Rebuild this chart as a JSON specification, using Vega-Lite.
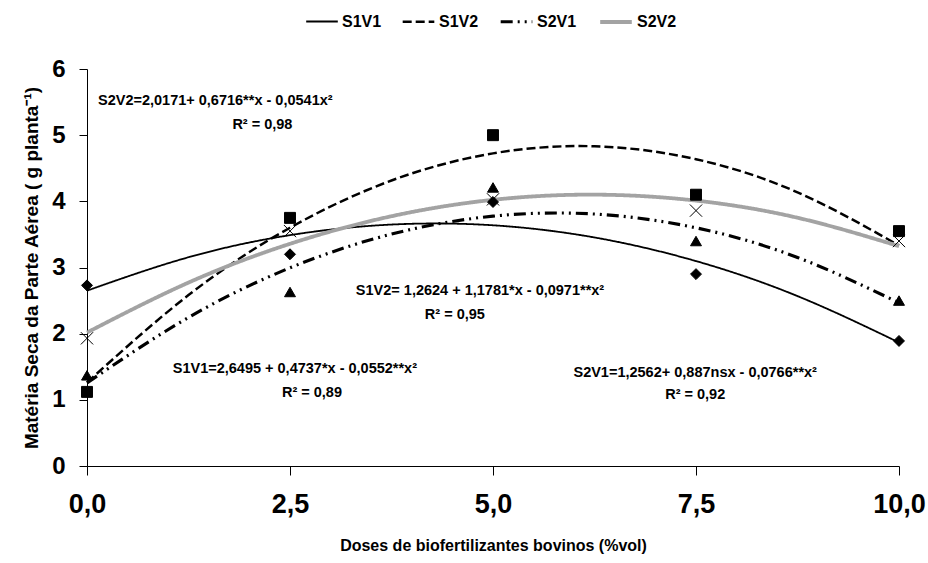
{
  "$schema": "https://vega.github.io/schema/vega-lite/v6.json",
  "width": 812,
  "height": 397,
  "autosize": {"type": "none"},
  "padding": {"left": 87, "top": 69, "right": 29, "bottom": 97},
  "background": "white",
  "config": {
    "view": {"stroke": null},
    "font": "Liberation Sans",
    "axis": {"grid": false, "domainColor": "black", "tickColor": "black", "labelColor": "black", "titleColor": "black", "labelFont": "Liberation Sans", "titleFont": "Liberation Sans", "labelFontWeight": "bold", "titleFontWeight": "bold"},
    "legend": {"padding": 0}
  },
  "datasets": {
    "curves": [
      {"serie": "S1V1", "x": 0, "y": 2.650}, {"serie": "S1V1", "x": 1.25, "y": 3.155}, {"serie": "S1V1", "x": 2.5, "y": 3.489}, {"serie": "S1V1", "x": 3.75, "y": 3.649}, {"serie": "S1V1", "x": 5, "y": 3.638}, {"serie": "S1V1", "x": 6.25, "y": 3.454}, {"serie": "S1V1", "x": 7.5, "y": 3.097}, {"serie": "S1V1", "x": 8.75, "y": 2.568}, {"serie": "S1V1", "x": 10, "y": 1.867},
      {"serie": "S1V2", "x": 0, "y": 1.262}, {"serie": "S1V2", "x": 1.25, "y": 2.583}, {"serie": "S1V2", "x": 2.5, "y": 3.601}, {"serie": "S1V2", "x": 3.75, "y": 4.315}, {"serie": "S1V2", "x": 5, "y": 4.725}, {"serie": "S1V2", "x": 6.25, "y": 4.832}, {"serie": "S1V2", "x": 7.5, "y": 4.636}, {"serie": "S1V2", "x": 8.75, "y": 4.136}, {"serie": "S1V2", "x": 10, "y": 3.333},
      {"serie": "S2V1", "x": 0, "y": 1.256}, {"serie": "S2V1", "x": 1.25, "y": 2.245}, {"serie": "S2V1", "x": 2.5, "y": 2.995}, {"serie": "S2V1", "x": 3.75, "y": 3.505}, {"serie": "S2V1", "x": 5, "y": 3.776}, {"serie": "S2V1", "x": 6.25, "y": 3.808}, {"serie": "S2V1", "x": 7.5, "y": 3.600}, {"serie": "S2V1", "x": 8.75, "y": 3.152}, {"serie": "S2V1", "x": 10, "y": 2.466},
      {"serie": "S2V2", "x": 0, "y": 2.017}, {"serie": "S2V2", "x": 1.25, "y": 2.772}, {"serie": "S2V2", "x": 2.5, "y": 3.358}, {"serie": "S2V2", "x": 3.75, "y": 3.775}, {"serie": "S2V2", "x": 5, "y": 4.023}, {"serie": "S2V2", "x": 6.25, "y": 4.101}, {"serie": "S2V2", "x": 7.5, "y": 4.011}, {"serie": "S2V2", "x": 8.75, "y": 3.752}, {"serie": "S2V2", "x": 10, "y": 3.323}
    ],
    "points": [
      {"trat": "S1V1", "x": 0, "y": 2.73}, {"trat": "S1V1", "x": 2.5, "y": 3.2}, {"trat": "S1V1", "x": 5, "y": 3.99}, {"trat": "S1V1", "x": 7.5, "y": 2.9}, {"trat": "S1V1", "x": 10, "y": 1.89},
      {"trat": "S1V2", "x": 0, "y": 1.12}, {"trat": "S1V2", "x": 2.5, "y": 3.75}, {"trat": "S1V2", "x": 5, "y": 5.0}, {"trat": "S1V2", "x": 7.5, "y": 4.1}, {"trat": "S1V2", "x": 10, "y": 3.55},
      {"trat": "S2V1", "x": 0, "y": 1.37}, {"trat": "S2V1", "x": 2.5, "y": 2.63}, {"trat": "S2V1", "x": 5, "y": 4.21}, {"trat": "S2V1", "x": 7.5, "y": 3.4}, {"trat": "S2V1", "x": 10, "y": 2.5},
      {"trat": "S2V2", "x": 0, "y": 1.93}, {"trat": "S2V2", "x": 2.5, "y": 3.55}, {"trat": "S2V2", "x": 5, "y": 4.03}, {"trat": "S2V2", "x": 7.5, "y": 3.86}, {"trat": "S2V2", "x": 10, "y": 3.4}
    ],
    "notes": [
      {"x": 1.58, "y": 5.51, "label": "S2V2=2,0171+ 0,6716**x - 0,0541x²"},
      {"x": 2.16, "y": 5.15, "label": "R² = 0,98"},
      {"x": 4.84, "y": 2.64, "label": "S1V2= 1,2624 + 1,1781*x  - 0,0971**x²"},
      {"x": 4.53, "y": 2.28, "label": "R² = 0,95"},
      {"x": 2.56, "y": 1.47, "label": "S1V1=2,6495 + 0,4737*x - 0,0552**x²"},
      {"x": 2.77, "y": 1.10, "label": "R² = 0,89"},
      {"x": 7.49, "y": 1.40, "label": "S2V1=1,2562+ 0,887nsx - 0,0766**x²"},
      {"x": 7.49, "y": 1.07, "label": "R² = 0,92"}
    ]
  },
  "layer": [
    {
      "data": {"name": "curves"},
      "mark": {"type": "line", "interpolate": "natural"},
      "encoding": {
        "x": {"field": "x", "type": "quantitative", "scale": {"domain": [0, 10], "nice": false},
          "axis": {"values": [0, 2.5, 5, 7.5, 10], "labelExpr": "replace(format(datum.value, '.1f'), '.', ',')", "labelFlush": false, "labelFontSize": 27, "labelPadding": 16, "tickSize": 9, "title": "Doses de biofertilizantes bovinos (%vol)", "titleFontSize": 16, "titlePadding": 20}},
        "y": {"field": "y", "type": "quantitative", "scale": {"domain": [0, 6], "nice": false},
          "axis": {"values": [0, 1, 2, 3, 4, 5, 6], "format": "d", "labelFlush": false, "labelFontSize": 24, "labelPadding": 14, "tickSize": 8, "title": "Matéria Seca da Parte Aérea ( g planta⁻¹)", "titleFontSize": 19, "titlePadding": 10}},
        "color": {"field": "serie", "type": "nominal", "scale": {"domain": ["S1V1", "S1V2", "S2V1", "S2V2"], "range": ["black", "black", "black", "#a3a3a3"]},
          "legend": {"orient": "none", "legendX": 218, "legendY": -65, "direction": "horizontal", "title": null, "symbolType": "stroke", "symbolSize": 1000, "labelFontSize": 16, "labelFontWeight": "bold", "labelColor": "black", "columnPadding": 15, "labelOffset": 3}},
        "strokeDash": {"field": "serie", "type": "nominal", "scale": {"domain": ["S1V1", "S1V2", "S2V1", "S2V2"], "range": [[1, 0], [9, 4], [12, 5, 2, 5, 2, 5], [1, 0]]},
          "legend": {"orient": "none", "legendX": 218, "legendY": -65, "direction": "horizontal", "title": null, "symbolType": "stroke", "symbolSize": 1000, "labelFontSize": 16, "labelFontWeight": "bold", "labelColor": "black", "columnPadding": 15, "labelOffset": 3}},
        "strokeWidth": {"field": "serie", "type": "nominal", "scale": {"domain": ["S1V1", "S1V2", "S2V1", "S2V2"], "range": [1.8, 3.8, 1.3, 3.4]},
          "legend": {"orient": "none", "legendX": 218, "legendY": -65, "direction": "horizontal", "title": null, "symbolType": "stroke", "symbolSize": 1000, "labelFontSize": 16, "labelFontWeight": "bold", "labelColor": "black", "columnPadding": 15, "labelOffset": 3}}
      }
    },
    {
      "data": {"name": "points"},
      "transform": [{"filter": "datum.trat === 'S1V1'"}],
      "mark": {"type": "point", "shape": "diamond", "filled": true, "fill": "black", "stroke": "black", "strokeWidth": 1, "opacity": 1, "size": 120},
      "encoding": {"x": {"field": "x", "type": "quantitative"}, "y": {"field": "y", "type": "quantitative"}}
    },
    {
      "data": {"name": "points"},
      "transform": [{"filter": "datum.trat === 'S1V2'"}],
      "mark": {"type": "point", "shape": "square", "filled": true, "fill": "black", "stroke": "black", "strokeWidth": 1, "opacity": 1, "size": 120},
      "encoding": {"x": {"field": "x", "type": "quantitative"}, "y": {"field": "y", "type": "quantitative"}}
    },
    {
      "data": {"name": "points"},
      "transform": [{"filter": "datum.trat === 'S2V1'"}],
      "mark": {"type": "point", "shape": "triangle-up", "filled": true, "fill": "black", "stroke": "black", "strokeWidth": 1, "opacity": 1, "size": 120},
      "encoding": {"x": {"field": "x", "type": "quantitative"}, "y": {"field": "y", "type": "quantitative"}}
    },
    {
      "data": {"name": "points"},
      "transform": [{"filter": "datum.trat === 'S2V2'"}],
      "mark": {"type": "point", "shape": "M-1,-1L1,1M1,-1L-1,1", "filled": false, "stroke": "black", "strokeWidth": 1, "opacity": 1, "size": 150},
      "encoding": {"x": {"field": "x", "type": "quantitative"}, "y": {"field": "y", "type": "quantitative"}}
    },
    {
      "data": {"name": "notes"},
      "mark": {"type": "text", "font": "Liberation Sans", "fontWeight": "bold", "fontSize": 14.5, "color": "black", "align": "center", "baseline": "middle"},
      "encoding": {
        "x": {"field": "x", "type": "quantitative"},
        "y": {"field": "y", "type": "quantitative"},
        "text": {"field": "label", "type": "nominal"}
      }
    }
  ]
}
